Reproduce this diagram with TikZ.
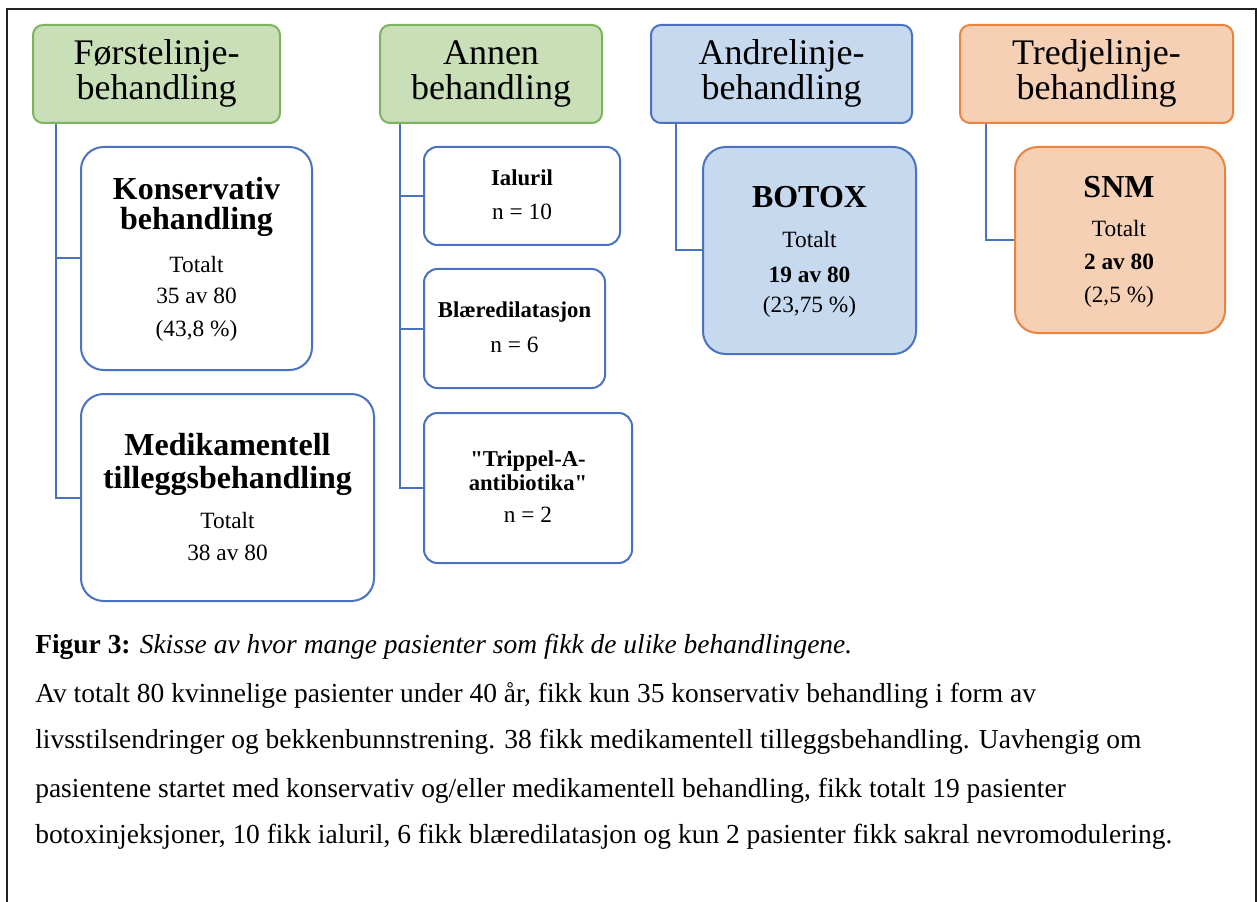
\documentclass[tikz,border=0pt]{standalone}
\usepackage{fontspec}
\setmainfont{Liberation Serif}
\newfontfamily\rawserif{Liberation Serif}[Ligatures=TeXOff]
\newcommand{\sq}{{\rawserif\symbol{34}}}
\usetikzlibrary{fit}
\definecolor{gfill}{HTML}{C9DFB8}
\definecolor{gline}{HTML}{7DB35A}
\definecolor{bfill}{HTML}{C6D9EF}
\definecolor{bline}{HTML}{4A72C0}
\definecolor{ofill}{HTML}{F5D0B4}
\definecolor{oline}{HTML}{E8843F}
\definecolor{framecol}{HTML}{222222}
\tikzset{
 hdr/.style={rounded corners=7.5pt, line width=1.5pt, inner sep=0pt},
 ghdr/.style={hdr, draw=gline, fill=gfill},
 bhdr/.style={hdr, draw=bline, fill=bfill},
 ohdr/.style={hdr, draw=oline, fill=ofill},
 card/.style={draw=bline, line width=1.5pt, inner sep=0pt, rounded corners=17pt},
 smallcard/.style={card, rounded corners=10pt},
 conn/.style={draw=bline, line width=1.5pt},
 htext/.style={anchor=base, inner sep=0pt, font=\fontsize{27}{27}\selectfont},
 btitle/.style={anchor=base, inner sep=0pt, font=\fontsize{24}{24}\selectfont\bfseries},
 btext/.style={anchor=base, inner sep=0pt, font=\fontsize{17.5}{17.5}\selectfont},
 bbold/.style={btext, font=\fontsize{17.5}{17.5}\selectfont\bfseries},
 stitle/.style={anchor=base, inner sep=0pt, font=\fontsize{17}{17}\selectfont\bfseries},
 captext/.style={anchor=base west, inner sep=0pt, font=\fontsize{20.6}{20.6}\selectfont},
}
\begin{document}
\begin{tikzpicture}[x=0.75pt,y=-0.75pt]
\useasboundingbox (0,0) rectangle (1260,902);
\draw[framecol, line width=1pt] (7,902) -- (7,9) -- (1256,9) -- (1256,902);

% headers
\node[ghdr, fit={(33,25)(280,123)}] (h1) {};
\node[ghdr, fit={(380,25)(602,123)}] (h2) {};
\node[bhdr, fit={(651,25)(912,123)}] (h3) {};
\node[ohdr, fit={(960,25)(1233,123)}] (h4) {};
\node[htext] (h1a) at (156.5,65) {Førstelinje-};
\node[htext] (h1b) at (156.5,100) {behandling};
\node[htext] (h2a) at (491,65) {Annen};
\node[htext] (h2b) at (491,100) {behandling};
\node[htext] (h3a) at (781.5,65) {Andrelinje-};
\node[htext] (h3b) at (781.5,100) {behandling};
\node[htext] (h4a) at (1096.5,65) {Tredjelinje-};
\node[htext] (h4b) at (1096.5,100) {behandling};

% cards
\node[card, fill=white, fit={(81,147)(312,370)}] (kons) {};
\node[card, fill=white, fit={(81,394)(374,601)}] (medi) {};
\node[smallcard, fill=white, fit={(424,147)(620,245)}] (ial) {};
\node[smallcard, fill=white, fit={(424,269)(605,388)}] (blae) {};
\node[smallcard, fill=white, fit={(424,413)(632,563)}] (trip) {};
\node[card, fill=bfill, fit={(703,147)(916,354)}] (botox) {};
\node[card, draw=oline, fill=ofill, fit={(1015,147)(1225,333)}] (snm) {};

% connectors
\draw[conn] ([xshift=18pt]h1.south west) |- (kons.west);
\draw[conn] ([xshift=18pt]h1.south west) |- (medi.west);
\draw[conn] ([xshift=15.75pt]h2.south west) |- (ial.west);
\draw[conn] ([xshift=15.75pt]h2.south west) |- (blae.west);
\draw[conn] ([xshift=15.75pt]h2.south west) |- (trip.west);
\draw[conn] ([xshift=19.5pt]h3.south west) |- (botox.west);
\draw[conn] ([xshift=20.25pt]h4.south west) |- (snm.west);

% card texts
\node[btitle] (k1) at (196.5,200) {Konservativ};
\node[btitle] (k2) at (196.5,230) {behandling};
\node[btext] (k3) at (196.5,273) {Totalt};
\node[btext] (k4) at (196.5,304) {35 av 80};
\node[btext] (k5) at (196.5,336) {(43,8 \%)};

\node[btitle] (m1) at (227.5,455) {Medikamentell};
\node[btitle] (m2) at (227.5,488) {tilleggsbehandling};
\node[btext] (m3) at (227.5,528) {Totalt};
\node[btext] (m4) at (227.5,560) {38 av 80};

\node[stitle] (i1) at (522,186) {Ialuril};
\node[btext] (i2) at (522,220) {n = 10};

\node[stitle] (b1) at (514.5,318) {Blæredilatasjon};
\node[btext] (b2) at (514.5,352) {n = 6};

\node[stitle] (t1) at (528,466) {\sq Trippel-A-};
\node[stitle] (t2) at (528,490) {antibiotika\sq};
\node[btext] (t3) at (528,522) {n = 2};

\node[btitle] (x1) at (809.5,208) {BOTOX};
\node[btext] (x2) at (809.5,248) {Totalt};
\node[bbold] (x3) at (809.5,282) {19 av 80};
\node[btext] (x4) at (809.5,313) {(23,75 \%)};

\node[btitle] (s1) at (1119,198) {SNM};
\node[btext] (s2) at (1119,237) {Totalt};
\node[bbold] (s3) at (1119,270) {2 av 80};
\node[btext] (s4) at (1119,302) {(2,5 \%)};

% caption
\node[captext] (c1) at (35,653) {\textbf{Figur 3:} \textit{Skisse av hvor mange pasienter som fikk de ulike behandlingene.}};
\node[captext] (c2) at (35,702) {Av totalt 80 kvinnelige pasienter under 40 år, fikk kun 35 konservativ behandling i form av};
\node[captext] (c3) at (35,748) {livsstilsendringer og bekkenbunnstrening. 38 fikk medikamentell tilleggsbehandling. Uavhengig om};
\node[captext] (c4) at (35,797) {pasientene startet med konservativ og/eller medikamentell behandling, fikk totalt 19 pasienter};
\node[captext] (c5) at (35,843) {botoxinjeksjoner, 10 fikk ialuril, 6 fikk blæredilatasjon og kun 2 pasienter fikk sakral nevromodulering.};
\end{tikzpicture}
\end{document}
